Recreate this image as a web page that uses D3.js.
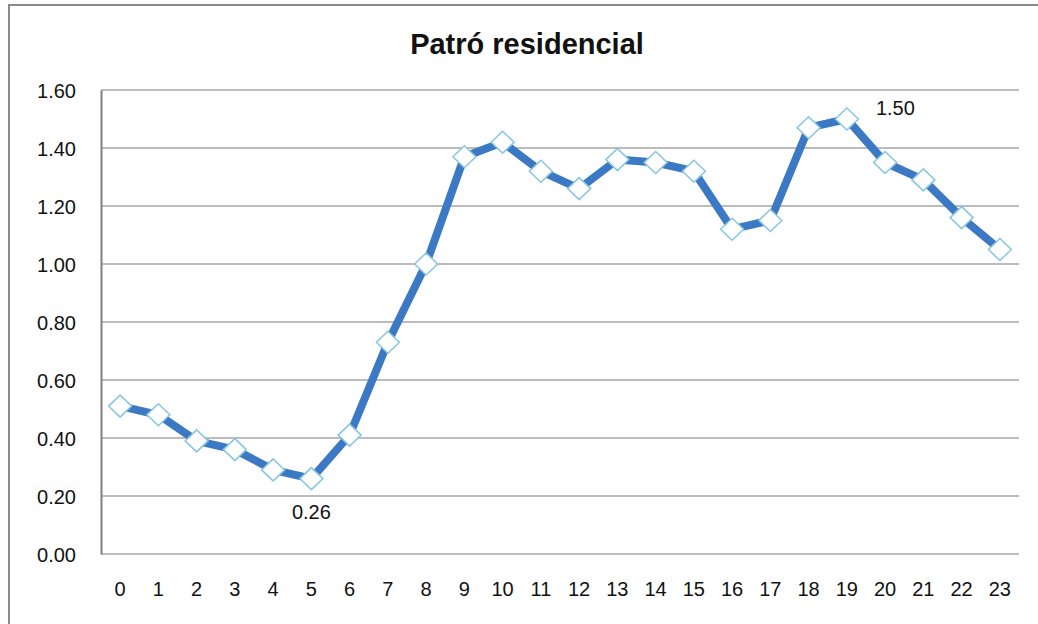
<!DOCTYPE html>
<html>
<head>
<meta charset="UTF-8">
<title>Patró residencial</title>
<script src="https://d3js.org/d3.v7.min.js"></script>
<style>
  body { margin: 0; background: #fff; }
  svg text { font-family: "Liberation Sans", Arial, sans-serif; fill: #111; }
</style>
</head>
<body>
<div id="chart"></div>
<script>

var hours = ["0","1","2","3","4","5","6","7","8","9","10","11","12","13","14","15","16","17","18","19","20","21","22","23"];
var values = [0.51, 0.48, 0.39, 0.36, 0.29, 0.26, 0.41, 0.73, 1.00, 1.37, 1.42, 1.32,
              1.26, 1.36, 1.35, 1.32, 1.12, 1.15, 1.47, 1.50, 1.35, 1.29, 1.16, 1.05];
var yTicks = [0, 0.2, 0.4, 0.6, 0.8, 1.0, 1.2, 1.4, 1.6];
// only the min and max points carry a label
var labelled = [{i: 5, pos: "below"}, {i: 19, pos: "right"}];

var W = 1038, H = 624;
var margin = {top: 90, right: 19, bottom: 70, left: 101},
    width = W - margin.left - margin.right,
    height = H - margin.top - margin.bottom;

var svg = d3.select("#chart")
  .append("svg")
    .attr("width", W)
    .attr("height", H);

// outer frame (only top and left edges show in the picture)
svg.append("path")
  .attr("d", "M9," + H + "V5H" + W)
  .attr("fill", "none")
  .attr("stroke", "#8a8a8a")
  .attr("stroke-width", 2);

svg.append("text")
  .attr("x", 527)
  .attr("y", 54)
  .attr("text-anchor", "middle")
  .style("font-size", "29px")
  .style("font-weight", "bold")
  .text("Patró residencial");

var g = svg.append("g")
  .attr("transform", "translate(" + margin.left + "," + margin.top + ")");

var x = d3.scaleBand().domain(hours).range([0, width]);
var y = d3.scaleLinear().domain([0, 1.6]).range([height, 0]);

// gridlines
g.selectAll(".grid")
  .data(yTicks)
  .enter().append("line")
    .attr("class", "grid")
    .attr("x1", 0).attr("x2", width)
    .attr("y1", function(d) { return y(d); })
    .attr("y2", function(d) { return y(d); })
    .attr("stroke", "#a6a6a6")
    .attr("stroke-width", 1.5);

// y axis
var yAxis = g.append("g")
  .call(d3.axisLeft(y).tickValues(yTicks).tickFormat(d3.format(".2f")).tickSize(0).tickPadding(25));
yAxis.select(".domain").attr("stroke", "#808080").attr("stroke-width", 2);
yAxis.selectAll("text").style("font-size", "20px").attr("dy", "0.35em");

// x axis
var xAxis = g.append("g")
  .attr("transform", "translate(0," + height + ")")
  .call(d3.axisBottom(x).tickSize(0).tickPadding(28));
xAxis.select(".domain").remove();
xAxis.selectAll("text").style("font-size", "20px");

// line
var line = d3.line()
  .x(function(d, i) { return x(hours[i]) + x.bandwidth() / 2; })
  .y(function(d) { return y(d); });

g.append("path")
  .datum(values)
  .attr("fill", "none")
  .attr("stroke", "#3c79c4")
  .attr("stroke-width", 8)
  .attr("stroke-linejoin", "round")
  .attr("d", line);

// diamond markers
g.selectAll(".pt")
  .data(values)
  .enter().append("path")
    .attr("class", "pt")
    .attr("transform", function(d, i) {
      return "translate(" + (x(hours[i]) + x.bandwidth() / 2) + "," + y(d) + ")";
    })
    .attr("d", "M0,-11L11.5,0L0,11L-11.5,0Z")
    .attr("fill", "#fff")
    .attr("stroke", "#86c6de")
    .attr("stroke-width", 1.5);

// data labels
g.selectAll(".lbl")
  .data(labelled)
  .enter().append("text")
    .attr("class", "lbl")
    .attr("x", function(d) {
      var cx = x(hours[d.i]) + x.bandwidth() / 2;
      return d.pos === "right" ? cx + 29 : cx;
    })
    .attr("y", function(d) {
      var cy = y(values[d.i]);
      return d.pos === "below" ? cy + 40 : cy - 4;
    })
    .attr("text-anchor", function(d) { return d.pos === "right" ? "start" : "middle"; })
    .style("font-size", "20px")
    .text(function(d) { return values[d.i].toFixed(2); });

</script>
</body>
</html>
